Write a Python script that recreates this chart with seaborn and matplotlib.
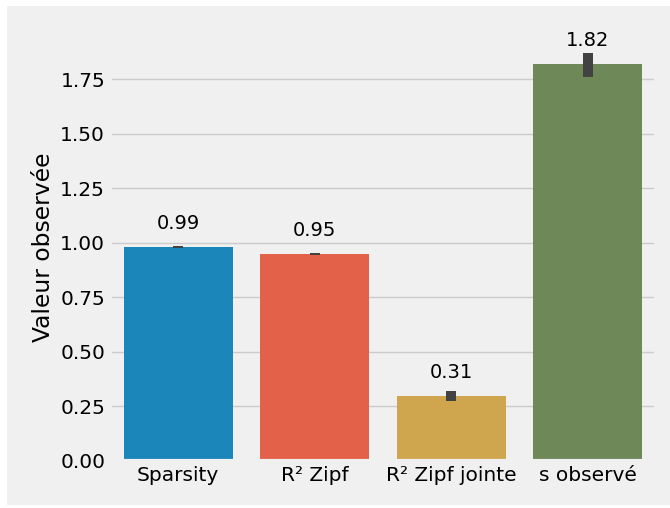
import matplotlib
matplotlib.use("Agg")
import matplotlib.pyplot as plt
import seaborn as sns
import pandas as pd
from matplotlib.patches import Rectangle

# Données
metriques = ["Sparsity", "R² Zipf", "R² Zipf jointe", "s observé"]
valeurs = [0.981, 0.948, 0.299, 1.819]
err_bas = [0.004, 0.005, 0.023, 0.059]
err_haut = [0.004, 0.005, 0.022, 0.049]
etiquettes = ["0.99", "0.95", "0.31", "1.82"]

plt.style.use("fivethirtyeight")

df = pd.DataFrame({"Métrique": metriques, "Valeur": valeurs})

fig = plt.figure(figsize=(6.70, 5.08), dpi=100, facecolor="white")
# fond gris décalé (bord blanc à gauche / en haut)
fig.patches.append(Rectangle((7 / 670, 3 / 508), 1, 1 - 9 / 508,
                             transform=fig.transFigure, facecolor="#f0f0f0",
                             edgecolor="none", zorder=-1))
ax = fig.add_axes([110 / 670, 47 / 508, 546 / 670, 428 / 508])

sns.barplot(data=df, x="Métrique", y="Valeur", hue="Métrique", dodge=False,
            legend=False, errorbar=None, ax=ax)
ax.errorbar(range(len(metriques)), valeurs, yerr=[err_bas, err_haut],
            fmt="none", ecolor=".26", elinewidth=7.2, capsize=0)
ax.set_xlim(-0.5, len(metriques) - 0.5)

for i, v in enumerate(valeurs):
    ax.annotate(etiquettes[i], xy=(i, v), xytext=(0, 10),
                textcoords="offset points", ha="center", va="bottom",
                fontsize=14)

ax.set_xlabel("")
ax.set_ylabel("Valeur observée")
ax.xaxis.grid(False)
ax.tick_params(labelsize=14.5)

plt.savefig("out.png", dpi=100, facecolor="white")
plt.close()
